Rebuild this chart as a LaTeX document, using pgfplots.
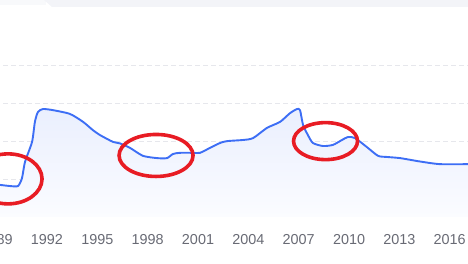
\documentclass[border=0pt]{standalone}
\usepackage{fontspec}
\setmainfont{Liberation Sans}
\usepackage{pgfplots}
\pgfplotsset{compat=1.18}
\definecolor{lineblue}{RGB}{61,110,245}
\definecolor{fillTop}{RGB}{234,239,254}
\definecolor{fillBot}{RGB}{251,252,255}
\definecolor{gridgray}{RGB}{230,231,236}
\definecolor{ticktext}{RGB}{104,106,116}
\definecolor{annred}{RGB}{232,28,36}
\definecolor{strip}{RGB}{243,244,248}
\definecolor{stripl}{RGB}{248,249,251}
\begin{document}
\begin{tikzpicture}
\clip (0,-47pt) rectangle (468pt,217pt);
\fill[stripl] (0pt,217pt) rectangle (46pt,212pt);
\fill[strip] (44pt,217pt) -- (468pt,217pt) -- (468pt,210pt) -- (52pt,210pt) -- cycle;
\begin{axis}[
  at={(-5.03pt,0)}, anchor=south west,
  scale only axis, width=473.2pt, height=217pt,
  xmin=1988.9, xmax=2017.1, ymin=0, ymax=5.748,
  axis line style={draw=none},
  major tick length=0pt,
  xtick={1989,1992,...,2016},
  ytick={0,1,2,3,4}, yticklabels={},
  ymajorgrids,
  grid style={gridgray, line width=1pt, dash pattern=on 5pt off 3pt},
  xticklabel style={font=\fontsize{14.4}{17}\selectfont, text=ticktext, anchor=center, yshift=-23pt},
  /pgf/number format/1000 sep={},
  /pgf/number format/assume math mode=true,
]
\pgfplotstableread{
x y
1988.90 0.86
1989.20 0.85
1989.80 0.82
1990.27 0.82
1990.51 1.03
1990.69 1.46
1991.11 1.99
1991.28 2.52
1991.46 2.78
1991.76 2.86
1992.36 2.83
1993.37 2.73
1994.15 2.52
1994.74 2.30
1995.16 2.17
1995.93 1.99
1996.35 1.95
1996.95 1.83
1997.72 1.62
1998.56 1.56
1999.15 1.56
1999.51 1.67
1999.93 1.70
2000.70 1.70
2001.12 1.70
2001.71 1.83
2002.31 1.96
2002.73 2.01
2003.68 2.04
2004.28 2.09
2005.11 2.36
2005.89 2.52
2006.48 2.75
2006.90 2.86
2007.08 2.83
2007.26 2.44
2007.55 2.17
2007.85 1.96
2008.45 1.88
2009.04 1.91
2009.58 2.04
2009.94 2.12
2010.36 2.09
2011.07 1.85
2011.73 1.62
2012.26 1.59
2013.04 1.56
2014.23 1.47
2015.42 1.40
2017.09 1.40
}\datatable
\addplot[draw=none, top color=fillTop, bottom color=fillBot, smooth, tension=0.4] table {\datatable} \closedcycle;
\addplot[lineblue, line width=1.9pt, smooth, tension=0.4] table {\datatable};
\draw[annred, line width=3.6pt] (axis cs:1989.68,1.01) ellipse [x radius=34pt, y radius=25pt];
\draw[annred, line width=3.6pt] (axis cs:1998.50,1.63) ellipse [x radius=37pt, y radius=21pt];
\draw[annred, line width=3.6pt] (axis cs:2008.60,2.01) ellipse [x radius=32pt, y radius=18.5pt];
\end{axis}
\end{tikzpicture}
\end{document}
